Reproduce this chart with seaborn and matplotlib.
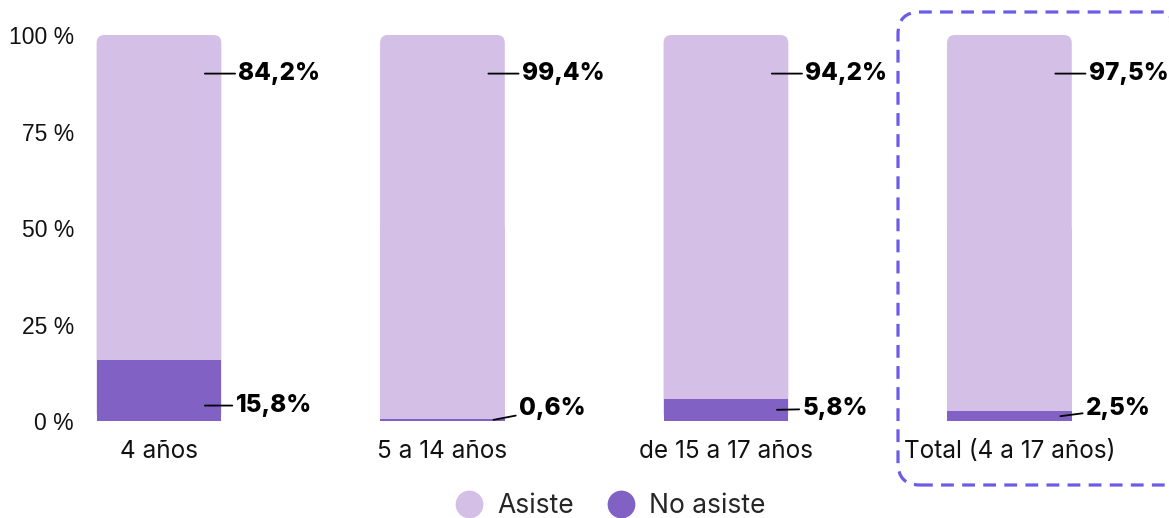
import matplotlib
matplotlib.use('Agg')
import matplotlib.pyplot as plt
import seaborn as sns
import pandas as pd
from matplotlib.patches import FancyBboxPatch, Rectangle
from matplotlib.lines import Line2D
from matplotlib.transforms import IdentityTransform

# --- data ---
categories = ['4 años', '5 a 14 años', 'de 15 a 17 años', 'Total (4 a 17 años)']
asiste     = [84.2, 99.4, 94.2, 97.5]
no_asiste  = [15.8, 0.6, 5.8, 2.5]
y_ticks    = [0, 25, 50, 75, 100]

light = '#d4bfe6'
dark = '#8261c4'
box_color = '#6b5ce7'

sns.set_theme(style='white')
plt.rcParams['font.family'] = ['Liberation Sans', 'DejaVu Sans']

df = pd.DataFrame({'cat': categories, 'asiste': asiste, 'no_asiste': no_asiste})
df['total'] = df['asiste'] + df['no_asiste']

fig = plt.figure(figsize=(11.69, 5.18), dpi=100)
ax = fig.add_axes([85 / 1169, 97 / 518, 1 - 85 / 1169, 386 / 518])

bar_w = 0.44
sns.barplot(data=df, x='cat', y='total', color=light, width=bar_w, ax=ax,
            saturation=1, order=categories, linewidth=0, edgecolor='none')

# round the top corners of the light bars
for p in list(ax.patches):
    x0, w, h = p.get_x(), p.get_width(), p.get_height()
    p.remove()
    ax.add_patch(FancyBboxPatch((x0, 0), w, h,
                                boxstyle='round,pad=0,rounding_size=0.028',
                                mutation_aspect=2.07 / 0.028,
                                fc=light, ec='none', lw=0, zorder=2))
    ax.add_patch(Rectangle((x0, 0), w, h / 2, fc=light, ec='none', lw=0, zorder=2))

n_light = len(ax.patches)
sns.barplot(data=df, x='cat', y='no_asiste', color=dark, width=bar_w, ax=ax,
            saturation=1, order=categories, linewidth=0, edgecolor='none')
for p in ax.patches[n_light:]:
    p.set_zorder(3)

lab_font = dict(family=['Inter', 'DejaVu Sans'], fontsize=17.5, fontweight='heavy', color='black')
for i, (a, n) in enumerate(zip(asiste, no_asiste)):
    ax.annotate(f'{a:.1f}%'.replace('.', ','), xy=(i + 0.162, 90), xytext=(i + 0.28, 90),
                va='center', ha='left',
                arrowprops=dict(arrowstyle='-', lw=1.3, color='black',
                                shrinkA=0, shrinkB=0),
                **lab_font, zorder=5)
    y0 = min(n / 2, 4)
    y1 = max(y0, 3.2)
    x0 = i + 0.162 if n > 8 else i + 0.18
    ax.annotate(f'{n:.1f}%'.replace('.', ','), xy=(x0, y0), xytext=(i + 0.27, y1),
                va='center', ha='left',
                arrowprops=dict(arrowstyle='-', lw=1.3, color='black',
                                shrinkA=0, shrinkB=0),
                **lab_font, zorder=5)

ax.set_xlim(-0.261, 3.563)
ax.set_ylim(0, 100)
ax.set_yticks(y_ticks)
ax.set_yticklabels([f'{t} %' for t in y_ticks], fontsize=16.5, color='#111111')
ax.set_xticks(range(len(categories)))
ax.set_xticklabels(categories, fontsize=17.5, color='#111111',
                   family=['Inter', 'DejaVu Sans'])
ax.tick_params(axis='x', length=0, pad=14)
ax.tick_params(axis='y', length=0, pad=8)
ax.set_xlabel('')
ax.set_ylabel('')
sns.despine(ax=ax, left=True, bottom=True)

handles = [Line2D([], [], marker='o', ls='none', ms=20, mfc=light, mec='none'),
           Line2D([], [], marker='o', ls='none', ms=20, mfc=dark, mec='none')]
fig.legend(handles, ['Asiste', 'No asiste'], loc='center', bbox_to_anchor=(604 / 1169, 12 / 518),
           ncol=2, frameon=False, prop=dict(family=['Inter', 'DejaVu Sans'], size=19),
           handletextpad=0.05, columnspacing=0.8)

# dashed highlight box around the total bar
box = FancyBboxPatch((898, 33), 290, 473, boxstyle='round,pad=0,rounding_size=22',
                     transform=IdentityTransform(), fill=False, ec=box_color,
                     lw=2.3, ls=(0, (4, 2.6)), clip_on=False)
fig.patches.append(box)

fig.savefig('out.png', dpi=100)
